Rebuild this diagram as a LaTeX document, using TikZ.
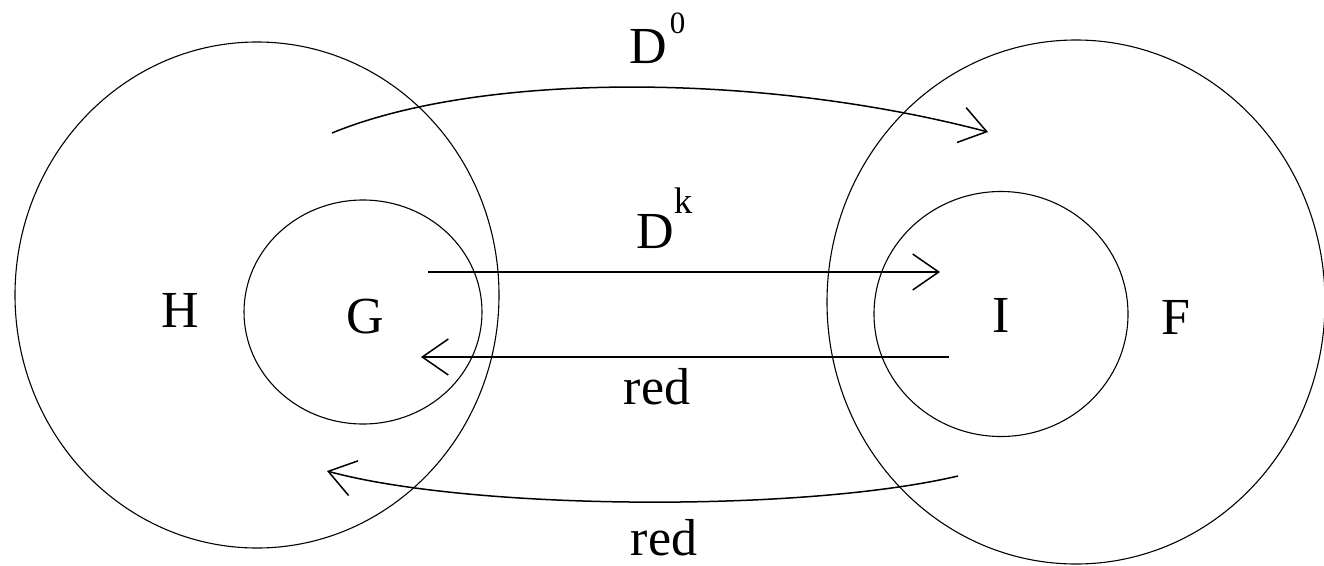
\documentclass[tikz,border=0pt]{standalone}
\usepackage{fontspec}
\setmainfont{Liberation Serif}
\usetikzlibrary{arrows.meta, shapes.geometric}

\begin{document}
\begin{tikzpicture}[
    x=1pt, y=-1pt,
    >={Straight Barb[length=26pt, width=36pt]},
    set/.style={draw, ellipse, line width=1.1pt, inner sep=0pt},
    lbl/.style={font=\fontsize{52}{60}\selectfont, inner sep=0pt},
    arr/.style={->, line width=1.5pt},
]
\useasboundingbox (0,0) rectangle (1324,565);
% ---- sets: outer and inner ----
\node[set, minimum width=484pt, minimum height=506pt] (Hset) at (257,295) {};
\node[set, minimum width=238pt, minimum height=224pt] (Gset) at (363,312) {};
\node[set, minimum width=498pt, minimum height=524pt] (Fset) at (1076,302) {};
\node[set, minimum width=254pt, minimum height=245pt] (Iset) at (1001,314) {};
\node[lbl] (H) at (180,310) {H};
\node[lbl] (G) at (365,317) {G};
\node[lbl] (I) at (1001,315) {I};
\node[lbl] (F) at (1176,317) {F};

% ---- arrow ends ----
\coordinate (d0s) at (332,133);
\coordinate (d0e) at (988,132);
\coordinate (dks) at (428,272);
\coordinate (dke) at (940,272);
\coordinate (rds) at (949,357);
\coordinate (rde) at (421,357);
\coordinate (rbs) at (958,476);
\coordinate (rbe) at (327,471);

% ---- maps ----
\draw[arr] (d0s) .. controls (480,72) and (760,72) .. (d0e);
\draw[arr] (dks) -- (dke);
\draw[arr] (rds) -- (rde);
\draw[arr] (rbs) .. controls (800,513) and (470,510) .. (rbe);

\node[lbl, anchor=base west] (D0) at (629,63)
    {D\kern3pt\raisebox{30pt}{\fontsize{31}{31}\selectfont 0}};
\node[lbl, anchor=base west] (Dk) at (636,248)
    {D\raisebox{35pt}{\fontsize{37}{37}\selectfont k}};
\node[lbl] (red1) at (657,387) {red};
\node[lbl] (red2) at (664,538) {red};
\end{tikzpicture}
\end{document}
